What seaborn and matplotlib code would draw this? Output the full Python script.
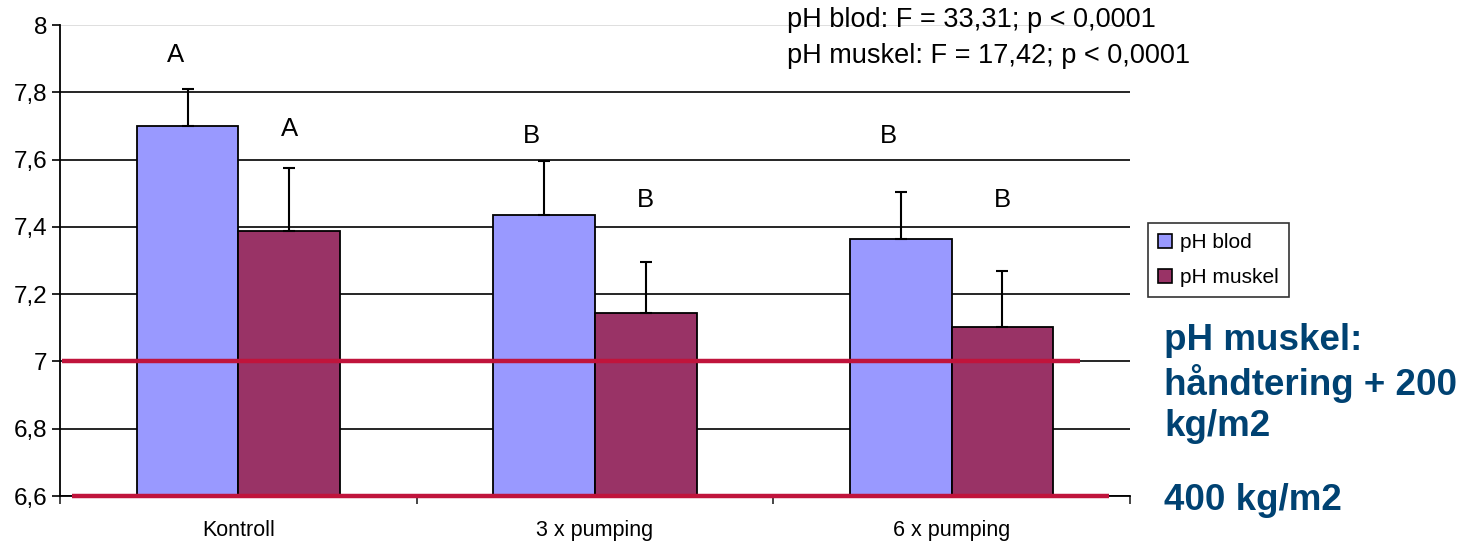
import pandas as pd
import numpy as np
import matplotlib.pyplot as plt
import seaborn as sns
from matplotlib.ticker import FuncFormatter, FixedLocator
from matplotlib.patches import Patch

sns.set_style("white")
plt.rcParams['font.family'] = ['Liberation Sans', 'DejaVu Sans']
plt.rcParams['text.color'] = 'black'

# data
grupper = ["Kontroll", "3 x pumping", "6 x pumping"]
ph_blod = [7.70, 7.435, 7.365]
ph_muskel = [7.387, 7.145, 7.103]
err_blod = [0.11, 0.16, 0.14]
err_muskel = [0.187, 0.15, 0.165]
bokstav_blod = ["A", "B", "B"]
bokstav_muskel = ["A", "B", "B"]
grenser = [7.0, 6.6]
serier = ["pH blod", "pH muskel"]
farger = ["#9999FF", "#993366"]

df = pd.DataFrame({
    "gruppe": grupper * 2,
    "pH": ph_blod + ph_muskel,
    "serie": [serier[0]] * 3 + [serier[1]] * 3,
})

fig = plt.figure(figsize=(14.65, 5.43), dpi=100)
ax = fig.add_axes([60 / 1465, 1 - 496 / 543, (1130 - 60) / 1465, (496 - 25) / 543])

ax.grid(axis="y", color="black", lw=1.2, zorder=0)
ax.set_axisbelow(True)

sns.barplot(data=df, x="gruppe", y="pH", hue="serie",
            palette=farger, saturation=1, width=0.57,
            edgecolor="black", linewidth=1.3, errorbar=None,
            ax=ax, legend=False)

ax.set_ylim(6.6, 8.0)
ax.set_xlim(-0.5, 2.5)
ax.set_yticks(np.arange(6.6, 8.01, 0.2))
ax.yaxis.set_major_formatter(FuncFormatter(lambda v, p: f"{v:.1f}".rstrip("0").rstrip(".").replace(".", ",")))
ax.get_ygridlines()[-1].set_color("#d9d9d9")

# upper-only error bars and letters
for cont, err, letters, dx, ly in [
    (ax.containers[0], err_blod, bokstav_blod, -0.035, [7.91, 7.67, 7.67]),
    (ax.containers[1], err_muskel, bokstav_muskel, 0.0, [7.69, 7.48, 7.48]),
]:
    xs = [b.get_x() + b.get_width() / 2 for b in cont]
    hs = [b.get_height() for b in cont]
    ax.errorbar(xs, hs, yerr=[np.zeros(len(err)), err], fmt="none",
                ecolor="black", elinewidth=1.5, capsize=4.5, capthick=1.5, zorder=3)
    for x, y, t in zip(xs, ly, letters):
        ax.text(x + dx, y, t, ha="center", va="center", fontsize=18.5, color="black")

# red reference lines
ax.plot([-0.494, 2.36], [grenser[0]] * 2, color="#C0143C", lw=3.2, zorder=4, solid_capstyle="butt")
ax.plot([-0.466, 2.441], [grenser[1]] * 2, color="#C0143C", lw=3.2, zorder=4,
        clip_on=False, solid_capstyle="butt")

for s in ["top", "right"]:
    ax.spines[s].set_visible(False)
for s in ["left", "bottom"]:
    ax.spines[s].set_color("black")
    ax.spines[s].set_linewidth(1.3)

ax.tick_params(axis="y", left=True, direction="out", length=6, width=1.2, pad=3,
               labelsize=17.5, colors="black")
ax.tick_params(axis="x", which="major", length=0, pad=17, labelsize=15.5, colors="black")
ax.xaxis.set_minor_locator(FixedLocator([-0.5, 0.5, 1.5, 2.5]))
ax.tick_params(axis="x", which="minor", bottom=True, direction="out", length=6, width=1.2)
ax.set_xlabel("")
ax.set_ylabel("")

# legend
handles = [Patch(facecolor=c, edgecolor="black", lw=1.2) for c in farger]
leg = fig.legend(handles, serier, loc="upper left",
                 bbox_to_anchor=(1148 / 1465, 1 - 223 / 543),
                 fontsize=15, frameon=True, fancybox=False, edgecolor="black",
                 handlelength=0.65, handleheight=0.65, handletextpad=0.4,
                 borderpad=0.5, labelspacing=0.75, borderaxespad=0)
leg.get_frame().set_linewidth(1.2)

# texts
fig.text(787 / 1465, 1 - 20 / 543, "pH blod: F = 33,31; p < 0,0001",
         fontsize=19.5, va="center", ha="left")
fig.text(787 / 1465, 1 - 56 / 543, "pH muskel: F = 17,42; p < 0,0001",
         fontsize=19.5, va="center", ha="left")
fig.text(1164 / 1465, 1 - 323 / 543, "pH muskel:\nhåndtering + 200\nkg/m2",
         fontsize=26.5, fontweight="bold", color="#004272", ha="left", va="top",
         linespacing=1.2)
fig.text(1164 / 1465, 1 - 510 / 543, "400 kg/m2",
         fontsize=26.5, fontweight="bold", color="#004272", ha="left", va="baseline")

fig.savefig("out.png", dpi=100)
